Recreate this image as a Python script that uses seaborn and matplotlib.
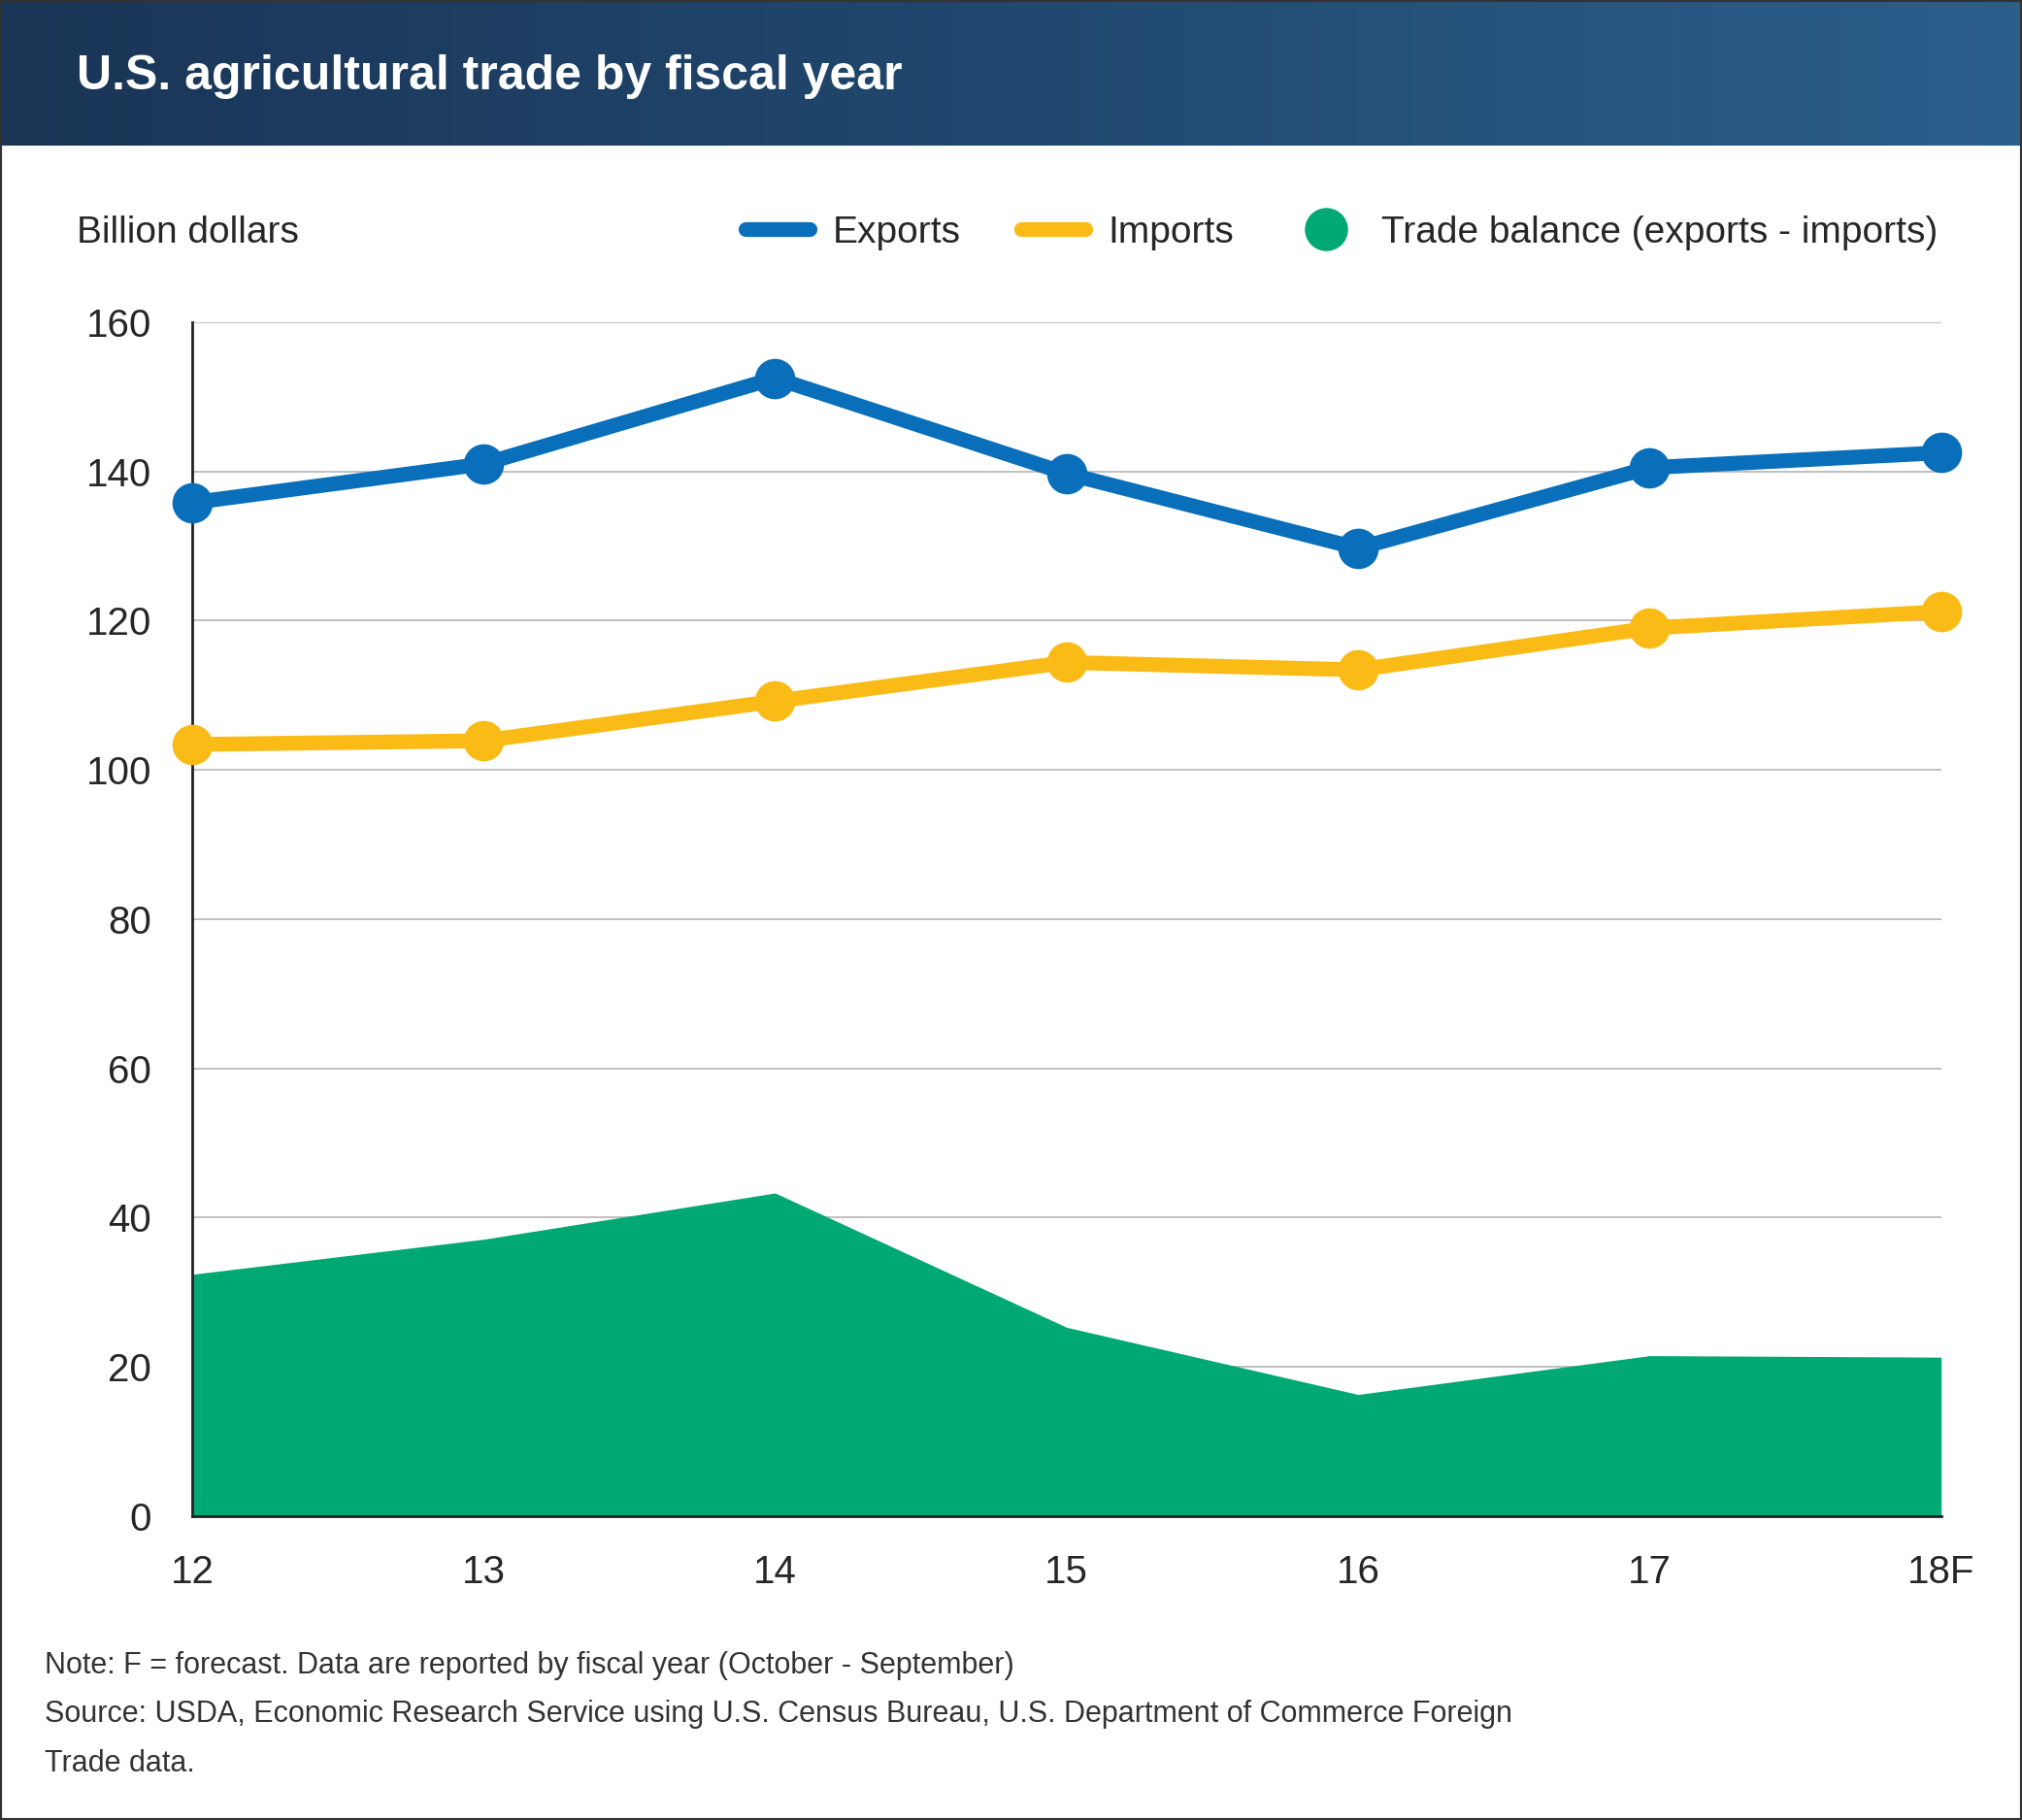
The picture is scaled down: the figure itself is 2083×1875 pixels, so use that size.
import matplotlib
matplotlib.use("Agg")
import matplotlib.pyplot as plt
import seaborn as sns
import numpy as np
import pandas as pd
from matplotlib.lines import Line2D

years = ["12", "13", "14", "15", "16", "17", "18F"]
exports = [135.8, 141.0, 152.5, 139.7, 129.7, 140.5, 142.5]
imports = [103.4, 103.9, 109.2, 114.4, 113.4, 119.0, 121.2]
balance = [32.4, 37.1, 43.3, 25.3, 16.3, 21.5, 21.3]

sns.set_theme(style="white")
plt.rcParams['font.family'] = ['Liberation Sans', 'DejaVu Sans']

fig = plt.figure(figsize=(20.83, 18.75), dpi=100)
# header
hax = fig.add_axes([0, 0.92, 1, 0.08])
grad = np.linspace(0, 1, 256).reshape(1, -1)
from matplotlib.colors import LinearSegmentedColormap
cm = LinearSegmentedColormap.from_list("h", ["#1a3556", "#21486f", "#2b5f8c"])
hax.imshow(grad, aspect="auto", cmap=cm, extent=[0, 1, 0, 1])
hax.axis("off")
fig.text(0.038, 0.958, "U.S. agricultural trade by fiscal year", color="white",
         fontsize=36, fontweight="bold", va="center")
# border
fig.add_artist(plt.Rectangle((0.0, 0.0), 1, 1, transform=fig.transFigure, fill=False,
                             edgecolor="#333333", linewidth=3))

ax = fig.add_axes([0.095, 0.167, 0.865, 0.656])
x = np.arange(len(years))
df = pd.DataFrame({"x": x, "Exports": exports, "Imports": imports})
ax.fill_between(x, 0, balance, color="#00a874", linewidth=0, zorder=1)
sns.lineplot(data=df, x="x", y="Exports", ax=ax, color="#0a6fba", linewidth=11,
             marker="o", markersize=30, markeredgewidth=0, zorder=3)
sns.lineplot(data=df, x="x", y="Imports", ax=ax, color="#fbbb16", linewidth=11,
             marker="o", markersize=30, markeredgewidth=0, zorder=3)
ax.set_xlim(0, 6)
ax.set_ylim(0, 160)
ax.set_yticks(range(0, 161, 20))
ax.set_xticks(x)
ax.set_xticklabels(years)
ax.yaxis.grid(True, color="#bbbbbb", linewidth=1.3)
ax.set_axisbelow(True)
for s in ["top", "right"]:
    ax.spines[s].set_visible(False)
ax.spines["left"].set_color("#222222")
ax.spines["left"].set_linewidth(2)
ax.spines["bottom"].set_color("#222222")
ax.spines["bottom"].set_linewidth(2)
ax.set_xlabel("")
ax.set_ylabel("")
ax.tick_params(axis="y", labelsize=29, length=0, pad=30)
ax.tick_params(axis="x", labelsize=29, length=0, pad=28)
for lab in ax.get_yticklabels():
    lab.set_horizontalalignment("right")
ax.clip_on = False
for l in ax.lines:
    l.set_clip_on(False)

fig.text(0.038, 0.872, "Billion dollars", fontsize=28, va="center")
handles = [Line2D([0], [0], color="#0a6fba", linewidth=11, solid_capstyle="round"),
           Line2D([0], [0], color="#fbbb16", linewidth=11, solid_capstyle="round"),
           Line2D([0], [0], marker="o", color="none", markerfacecolor="#00a874",
                  markeredgewidth=0, markersize=32)]
fig.legend(handles, ["Exports", "Imports", "Trade balance (exports - imports)"],
           loc="center right", bbox_to_anchor=(0.975, 0.872), ncol=3, frameon=False,
           fontsize=28, handlelength=1.7, columnspacing=1.6, handletextpad=0.6)

fig.text(0.022, 0.085, "Note: F = forecast. Data are reported by fiscal year (October - September)",
         fontsize=22, color="#333333", va="center")
fig.text(0.022, 0.058, "Source: USDA, Economic Research Service using U.S. Census Bureau, U.S. Department of Commerce Foreign",
         fontsize=22, color="#333333", va="center")
fig.text(0.022, 0.031, "Trade data.", fontsize=22, color="#333333", va="center")

fig.savefig("out.png", dpi=100, facecolor="white")
